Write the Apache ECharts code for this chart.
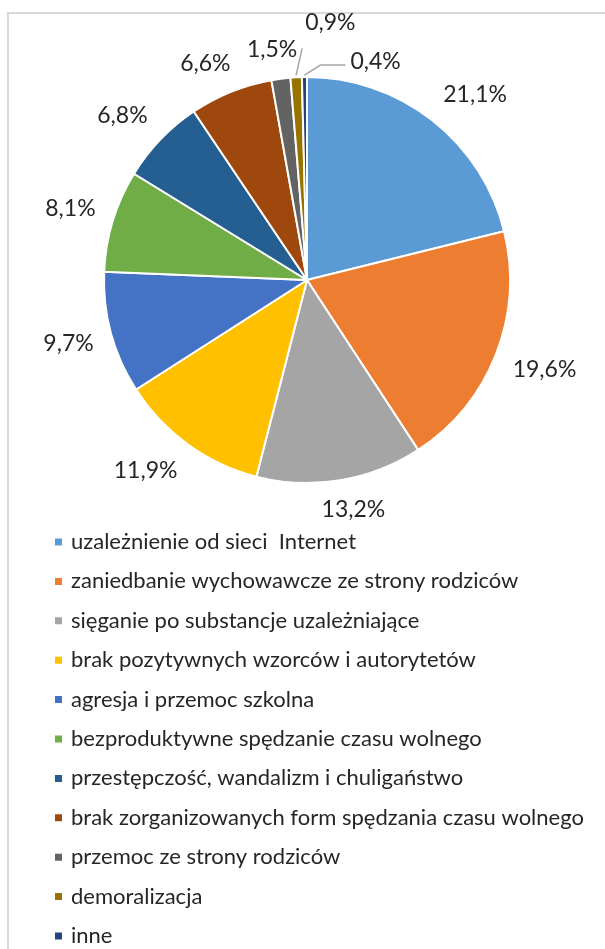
<!DOCTYPE html>
<html>
<head>
<meta charset="utf-8">
<script src="https://cdn.jsdelivr.net/npm/echarts@6/dist/echarts.min.js"></script>
<style>
  html, body { margin: 0; padding: 0; background: #ffffff; }
  #chart { width: 605px; height: 949px; }
</style>
</head>
<body>
<div id="chart"></div>
<script>
const categories = [
  'uzależnienie od sieci  Internet',
  'zaniedbanie wychowawcze ze strony rodziców',
  'sięganie po substancje uzależniające',
  'brak pozytywnych wzorców i autorytetów',
  'agresja i przemoc szkolna',
  'bezproduktywne spędzanie czasu wolnego',
  'przestępczość, wandalizm i chuligaństwo',
  'brak zorganizowanych form spędzania czasu wolnego',
  'przemoc ze strony rodziców',
  'demoralizacja',
  'inne'
];
const values = [21.1, 19.6, 13.2, 11.9, 9.7, 8.1, 6.8, 6.6, 1.5, 0.9, 0.4];
const colors = ['#5B9BD5', '#ED7D31', '#A5A5A5', '#FFC000', '#4472C4', '#70AD47',
                '#255E91', '#9E480E', '#636363', '#997300', '#264478'];

const CENTER = [307, 280];
const RADIUS = 203;
const GAP = 18;
const total = values.reduce((a, b) => a + b, 0);

function midDir(i) {
  let cum = 0;
  for (let k = 0; k < i; k++) cum += values[k];
  const frac = (cum + values[i] / 2) / total;
  const ang = frac * Math.PI * 2; // clockwise from top
  return [Math.sin(ang), -Math.cos(ang)];
}
const soft = t => Math.sign(t) * Math.min(1, Math.abs(t) * 2);

const fmt = v => v.toFixed(1).replace('.', ',') + '%';

const chart = echarts.init(document.getElementById('chart'), null, { renderer: 'canvas' });

const data = categories.map((name, i) => {
  const item = { name, value: values[i], itemStyle: { color: colors[i] } };
  if (i === 9 || i === 10) {
    item.labelLine = { show: true };
  }
  return item;
});

chart.setOption({
  animation: false,
  backgroundColor: '#ffffff',
  graphic: [{
    type: 'rect',
    z: 0,
    shape: { x: 8, y: 13, width: 700, height: 1000 },
    style: { fill: 'none', stroke: '#d9d9d9', lineWidth: 2 }
  }],
  legend: {
    orient: 'vertical',
    left: 53,
    top: 531,
    height: 460,
    padding: 0,
    icon: 'rect',
    itemWidth: 9,
    itemHeight: 9,
    itemGap: 17.4,
    selectedMode: false,
    textStyle: { fontFamily: 'Lato', fontSize: 22, color: '#262626', lineHeight: 22, padding: [0, 0, 0, 3] },
    data: categories
  },
  series: [{
    type: 'pie',
    center: CENTER,
    radius: RADIUS,
    startAngle: 90,
    clockwise: true,
    minAngle: 0,
    avoidLabelOverlap: false,
    itemStyle: { borderColor: '#ffffff', borderWidth: 2 },
    label: {
      show: true,
      position: 'outside',
      formatter: p => fmt(p.value),
      fontFamily: 'Lato',
      fontSize: 23,
      color: '#262626'
    },
    labelLine: {
      show: false,
      length: 10,
      length2: 0,
      lineStyle: { color: '#a6a6a6', width: 1.5 }
    },
    labelLayout: function (p) {
      const i = p.dataIndex;
      const u = midDir(i);
      const hw = p.labelRect.width / 2;
      const hh = p.labelRect.height / 2;
      const ex = [CENTER[0] + u[0] * RADIUS, CENTER[1] + u[1] * RADIUS];
      if (i === 9) {
        const a = [ex[0] + u[0] * 2, ex[1] + u[1] * 2];
        const b = [ex[0] + 6, ex[1] - 29];
        return {
          x: b[0] + 3 + hw, y: b[1] - 26, align: 'center', verticalAlign: 'middle',
          labelLinePoints: [a, [(a[0] + b[0]) / 2, (a[1] + b[1]) / 2], b]
        };
      }
      if (i === 10) {
        const a = [ex[0] + u[0] * 2, ex[1] + u[1] * 2];
        const m = [ex[0] + 16, ex[1] - 12];
        const b = [m[0] + 25, m[1]];
        return {
          x: b[0] + 5 + hw, y: b[1] - 3, align: 'center', verticalAlign: 'middle',
          labelLinePoints: [a, m, b]
        };
      }
      const d = RADIUS + GAP;
      return {
        x: CENTER[0] + u[0] * d + soft(u[0]) * hw,
        y: CENTER[1] + u[1] * d + soft(u[1]) * hh,
        align: 'center',
        verticalAlign: 'middle'
      };
    },
    data: data
  }]
});
</script>
</body>
</html>
